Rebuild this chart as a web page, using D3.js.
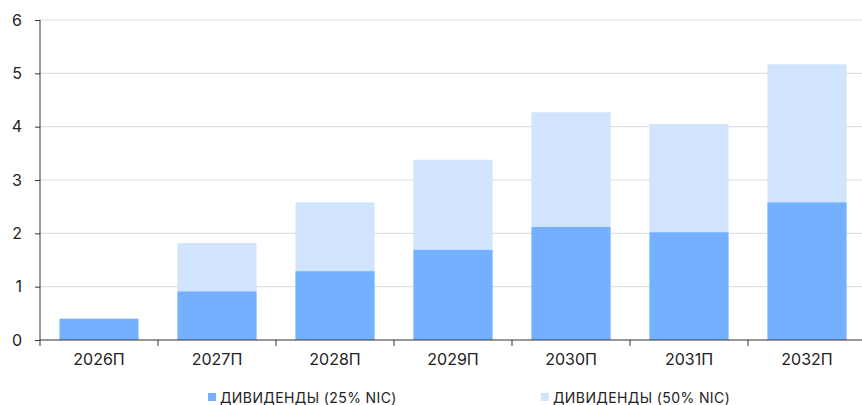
<!DOCTYPE html>
<html><head><meta charset="utf-8">
<script src="https://cdn.jsdelivr.net/npm/d3@7"></script>
<style>body{margin:0;background:#fff}svg{display:block;font-family:"Inter","Noto Sans",sans-serif}</style>
</head><body><svg id="c" width="862" height="405"></svg>
<script>
const categories = ["2026П","2027П","2028П","2029П","2030П","2031П","2032П"];
const div25 = [0.40, 0.91, 1.29, 1.69, 2.12, 2.02, 2.58];
const div50 = [null, 1.82, 2.58, 3.38, 4.27, 4.05, 5.17];
const seriesNames = ["ДИВИДЕНДЫ (25% NIC)", "ДИВИДЕНДЫ (50% NIC)"];
const yTicks = [0,1,2,3,4,5,6];
const colors = ["#74b0ff", "#d0e5fd"];

const svg = d3.select("#c");
const x = d3.scaleBand().domain(categories).range([40, 866]).paddingInner(0.33).paddingOuter(0.165);
const y = d3.scaleLinear().domain([0, 6]).range([340, 20]);

svg.append("g").selectAll("line").data(yTicks.filter(d=>d>0)).join("line")
  .attr("x1", 40).attr("x2", 862).attr("y1", d=>y(d)).attr("y2", d=>y(d))
  .attr("stroke", "#d9d9de").attr("stroke-width", 1);

svg.append("g").selectAll("rect").data(categories.map((c,i)=>({c,v:div50[i]})).filter(d=>d.v!=null)).join("rect")
  .attr("x", d=>x(d.c)).attr("width", x.bandwidth())
  .attr("y", d=>y(d.v)).attr("height", d=>y(0)-y(d.v)).attr("fill", colors[1]);
svg.append("g").selectAll("rect").data(categories.map((c,i)=>({c,v:div25[i]}))).join("rect")
  .attr("x", d=>x(d.c)).attr("width", x.bandwidth())
  .attr("y", d=>y(d.v)).attr("height", d=>y(0)-y(d.v)).attr("fill", colors[0]);

const ya = svg.append("g").attr("transform","translate(40,0)")
  .call(d3.axisLeft(y).tickValues(yTicks).tickSize(5).tickPadding(13).tickFormat(d3.format("d")));
ya.select(".domain").attr("stroke","#333").attr("d","M0,20V340");
ya.selectAll(".tick line").attr("stroke","#333");
ya.selectAll("text").attr("font-size",16).attr("fill","#222").attr("font-family","Inter, Noto Sans, sans-serif");

const xa = svg.append("g").attr("transform","translate(0,340)")
  .call(d3.axisBottom(x).tickSize(0).tickPadding(14));
xa.select(".domain").attr("stroke","#333").attr("d","M40,0H862");
xa.selectAll("text").attr("font-size",16).attr("fill","#222").attr("font-family","Inter, Noto Sans, sans-serif");
const step = x.step();
const bounds = d3.range(0, categories.length+1).map(i=>40 + i*step).filter(v=>v<=862);
svg.append("g").selectAll("line").data(bounds).join("line")
  .attr("x1", d=>d).attr("x2", d=>d).attr("y1", 340).attr("y2", 346).attr("stroke","#333");

const leg = svg.append("g");
const legX = [208, 541];
seriesNames.forEach((n,i)=>{
  leg.append("rect").attr("x", legX[i]).attr("y", 393).attr("width", 8).attr("height", 8).attr("fill", colors[i]);
  leg.append("text").attr("x", legX[i]+12).attr("y", 402.5).attr("font-size", 14).attr("letter-spacing", "0.4px").attr("fill","#222")
    .attr("font-family","Inter, Noto Sans, sans-serif").text(n);
});
</script></body></html>
